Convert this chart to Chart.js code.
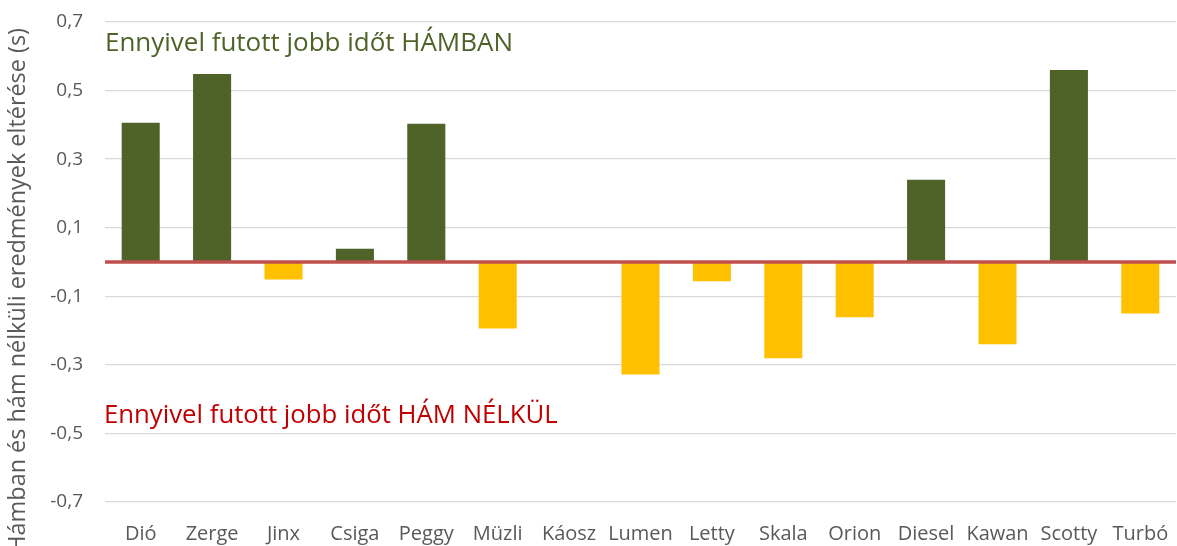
<!DOCTYPE html>
<html>
<head>
<meta charset="utf-8">
<script src="https://cdn.jsdelivr.net/npm/chart.js@4.4.1/dist/chart.umd.min.js"></script>
<style>
  html, body { margin: 0; padding: 0; background: #fff; }
  #wrap { width: 1177px; height: 546px; position: relative; }
</style>
</head>
<body>
<div id="wrap"><canvas id="c" width="1177" height="546"></canvas></div>
<script>
const categories = ["Dió", "Zerge", "Jinx", "Csiga", "Peggy", "Müzli", "Káosz", "Lumen", "Letty", "Skala", "Orion", "Diesel", "Kawan", "Scotty", "Turbó"];
const differences = [0.406, 0.548, -0.051, 0.039, 0.403, -0.194, 0, -0.328, -0.056, -0.281, -0.161, 0.240, -0.240, 0.560, -0.150];
const yTicks = [-0.7, -0.5, -0.3, -0.1, 0.1, 0.3, 0.5, 0.7];
const yTitle = "Hámban és hám nélküli eredmények eltérése (s)";
const noteWith = "Ennyivel futott jobb időt HÁMBAN";
const noteWithout = "Ennyivel futott jobb időt HÁM NÉLKÜL";

const GREEN = "#4F6228", YELLOW = "#FFC000", RED_LINE = "#C0504D", RED_TEXT = "#C00000", GREY = "#595959";
const FONT = "'Open Sans', 'DejaVu Sans', sans-serif";

function fitFont(ctx, text, width, base) {
  ctx.font = base + "px " + FONT;
  const w = ctx.measureText(text).width;
  return base * width / w;
}

const extras = {
  id: "extras",
  afterDatasetsDraw(chart) {
    const ctx = chart.ctx, y = chart.scales.y, area = chart.chartArea;
    const y0 = y.getPixelForValue(0);
    ctx.save();
    ctx.strokeStyle = RED_LINE;
    ctx.lineWidth = 3.5;
    ctx.beginPath();
    ctx.moveTo(area.left, y0);
    ctx.lineTo(area.right, y0);
    ctx.stroke();
    ctx.restore();
  },
  afterDraw(chart) {
    const ctx = chart.ctx, area = chart.chartArea;
    ctx.save();
    let fs = fitFont(ctx, noteWith, 408, 20);
    ctx.font = fs + "px " + FONT;
    ctx.fillStyle = GREEN;
    ctx.textAlign = "left";
    ctx.textBaseline = "alphabetic";
    ctx.fillText(noteWith, area.left, 51);
    fs = fitFont(ctx, noteWithout, 454, 20);
    ctx.font = fs + "px " + FONT;
    ctx.fillStyle = RED_TEXT;
    ctx.fillText(noteWithout, area.left - 1, 423);
    fs = fitFont(ctx, yTitle, 525, 18);
    ctx.font = fs + "px " + FONT;
    ctx.fillStyle = GREY;
    ctx.translate(18, 28);
    ctx.rotate(-Math.PI / 2);
    ctx.textAlign = "right";
    ctx.textBaseline = "middle";
    ctx.fillText(yTitle, 0, 0);
    ctx.restore();
  }
};

new Chart(document.getElementById("c"), {
  type: "bar",
  data: {
    labels: categories,
    datasets: [{
      data: differences,
      backgroundColor: differences.map(v => v >= 0 ? GREEN : YELLOW),
      borderWidth: 0,
      barPercentage: 0.533,
      categoryPercentage: 1.0
    }]
  },
  options: {
    responsive: false,
    animation: false,
    devicePixelRatio: 1,
    layout: { padding: { top: 22, right: 1, left: 0, bottom: 0 } },
    plugins: { legend: { display: false }, tooltip: { enabled: false }, title: { display: false } },
    scales: {
      x: {
        grid: { display: false, drawTicks: true, tickLength: 20 },
        border: { display: false },
        ticks: { color: GREY, font: { family: FONT, size: 20 }, padding: 0, maxRotation: 0, autoSkip: false },
        afterFit(s) { s.height = 44; s.paddingLeft = 0; s.paddingRight = 0; }
      },
      y: {
        min: -0.7, max: 0.7,
        afterBuildTicks(s) { s.ticks = yTicks.map(v => ({ value: v })); },
        grid: { color: "#D9D9D9", lineWidth: 1.3, drawTicks: false },
        border: { display: false },
        ticks: {
          color: GREY, font: { family: FONT, size: 19 }, padding: 22,
          callback: v => Number(v).toFixed(1).replace(".", ",")
        },
        afterFit(s) { s.width = 105; s.paddingTop = 0; s.paddingBottom = 0; }
      }
    }
  },
  plugins: [extras]
});
</script>
</body>
</html>
